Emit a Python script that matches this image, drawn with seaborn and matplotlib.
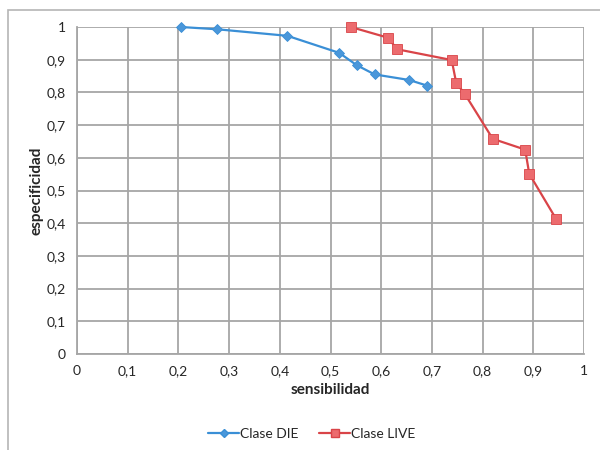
import numpy as np
import pandas as pd
import seaborn as sns
import matplotlib
matplotlib.use("Agg")
from matplotlib import pyplot as plt
from matplotlib.patches import Rectangle

# ROC-like points
die_sens = [0.205, 0.277, 0.415, 0.517, 0.552, 0.587, 0.655, 0.690]
die_spec = [1.000, 0.993, 0.973, 0.921, 0.883, 0.855, 0.838, 0.821]
live_sens = [0.540, 0.614, 0.631, 0.739, 0.748, 0.765, 0.820, 0.884, 0.892, 0.945]
live_spec = [1.000, 0.967, 0.932, 0.899, 0.829, 0.795, 0.658, 0.625, 0.551, 0.413]
ticks = [round(0.1 * i, 1) for i in range(11)]
tick_labels = ["0" if t == 0 else ("1" if t == 1 else f"{t:.1f}".replace(".", ",")) for t in ticks]

sns.set_style("white")
plt.rcParams['font.family'] = ['Lato', 'DejaVu Sans']

df = pd.concat([
    pd.DataFrame({'sens': die_sens, 'spec': die_spec, 'Serie': 'Clase DIE'}),
    pd.DataFrame({'sens': live_sens, 'spec': live_spec, 'Serie': 'Clase LIVE'}),
])

fig = plt.figure(figsize=(6, 4.5), dpi=100)
ax = fig.add_axes([77 / 600, 1 - 354 / 450, 507 / 600, 327 / 450])

# outer chart frame (cropped on right/bottom)
fig.patches.append(Rectangle((8 / 600, -0.1), 1.1, 1 - 10 / 450 + 0.1, transform=fig.transFigure,
                             fill=False, edgecolor='#b5b5b5', linewidth=1.2))

blue = '#3a8fd6'
red = '#d94448'
sns.lineplot(data=df, x='sens', y='spec', hue='Serie', style='Serie', sort=False,
             palette={'Clase DIE': blue, 'Clase LIVE': red},
             markers={'Clase DIE': 'D', 'Clase LIVE': 's'}, dashes=False,
             linewidth=1.6, ax=ax, legend=False)
for line, mfc, ms in zip(ax.lines, ['#4a97da', '#ec6b6e'], [5, 7]):
    line.set_markerfacecolor(mfc)
    line.set_markersize(ms)
    line.set_markeredgecolor(line.get_color())
    line.set_markeredgewidth(0.6)
    line.set_clip_on(False)
    line.set_zorder(5)

ax.set_xlim(0, 1)
ax.set_ylim(0, 1)
ax.set_xticks(ticks)
ax.set_yticks(ticks)
ax.set_xticklabels(tick_labels, fontsize=10)
ax.set_yticklabels(tick_labels, fontsize=10)
ax.grid(True, color='#a6a6a6', linewidth=1.3)
ax.set_axisbelow(True)
for side in ['top', 'right']:
    ax.spines[side].set_visible(False)
for side in ['left', 'bottom']:
    ax.spines[side].set_color('#a6a6a6')
    ax.spines[side].set_linewidth(1.3)
ax.tick_params(axis='both', direction='out', length=4, color='#a6a6a6', width=1.2, pad=4)
ax.set_xlabel('sensibilidad', fontsize=11, fontweight='bold', labelpad=4)
ax.set_ylabel('especificidad', fontsize=11, fontweight='bold', labelpad=2)

handles = [plt.Line2D([], [], color=blue, marker='D', markersize=4, markerfacecolor='#4a97da', linewidth=1.6),
           plt.Line2D([], [], color=red, marker='s', markersize=6, markerfacecolor='#ec6b6e', linewidth=1.6)]
fig.legend(handles, ['Clase DIE', 'Clase LIVE'], loc='center', bbox_to_anchor=(0.52, 1 - 434 / 450),
           ncol=2, frameon=False, fontsize=10, handlelength=2.2, handletextpad=0.1, columnspacing=1.5)

fig.savefig('out.png', dpi=100)
plt.close(fig)
